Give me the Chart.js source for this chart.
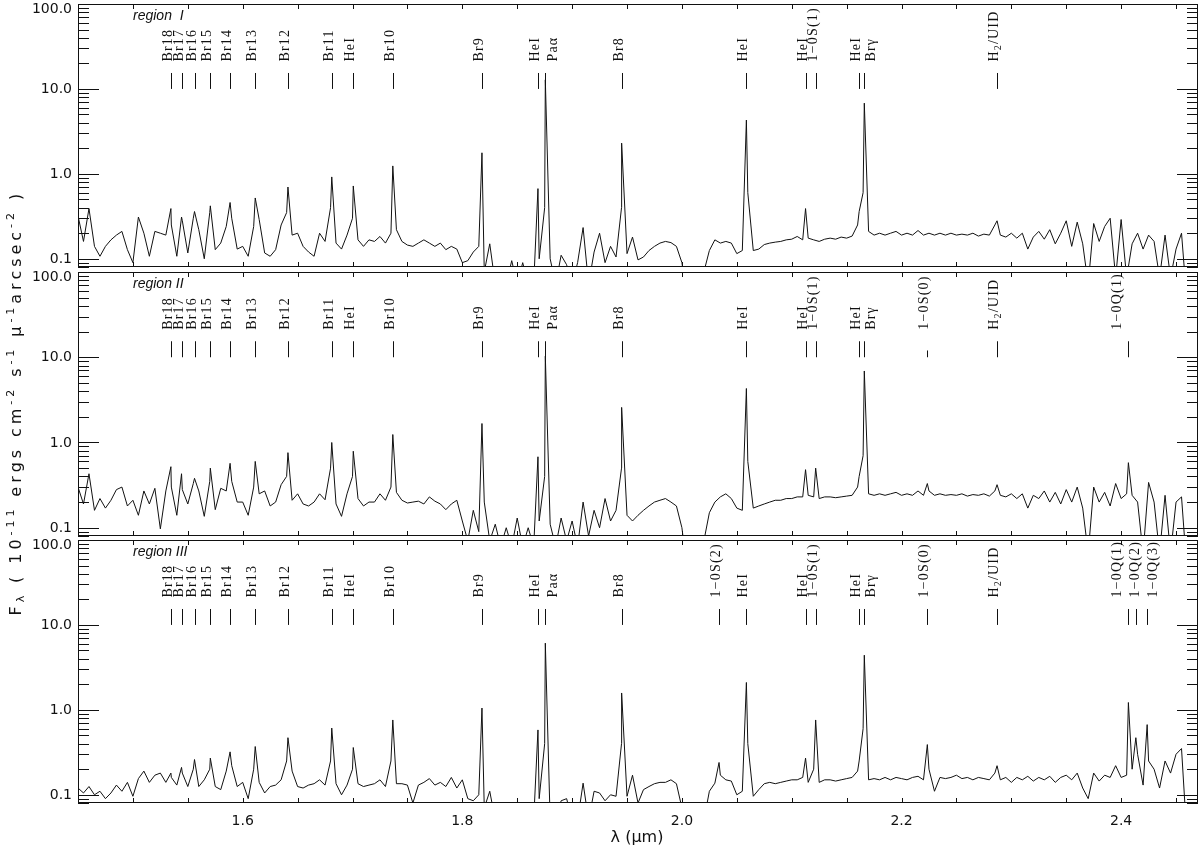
<!DOCTYPE html>
<html>
<head>
<meta charset="utf-8">
<script src="https://cdn.jsdelivr.net/npm/chart.js@4.4.1/dist/chart.umd.min.js"></script>
<style>
  html, body { margin: 0; padding: 0; background: #fff; }
  #wrap { position: relative; width: 1200px; height: 849px; }
  #wrap canvas { position: absolute; left: 0; top: 0; }
</style>
</head>
<body>
<div id="wrap">
  <canvas id="p1" width="1200" height="849"></canvas>
  <canvas id="p2" width="1200" height="849"></canvas>
  <canvas id="p3" width="1200" height="849"></canvas>
</div>
<script>
// spectra sampled every 0.005 micron from 1.450 to 2.460 (203 samples per region)
const waveStart = 1.45;
const waveStep = 0.005;

const flux1 = [
  0.32,0.16,0.39,0.14,0.107,0.14,0.167,0.19,0.21,0.128,
  0.09,0.31,0.2,0.107,0.21,0.2,0.19,0.25,0.107,0.28,
  0.117,0.3,0.22,0.1,0.35,0.128,0.153,0.24,0.3,0.13,
  0.14,0.107,0.24,0.29,0.117,0.107,0.128,0.25,0.35,0.19,
  0.2,0.14,0.12,0.107,0.2,0.16,0.4,0.153,0.13,0.19,
  0.3,0.167,0.14,0.167,0.16,0.183,0.153,0.2,0.22,0.16,
  0.145,0.14,0.153,0.167,0.153,0.14,0.153,0.128,0.14,0.13,
  0.09,0.095,0.12,0.14,0.07,0.15,0.05,0.05,0.05,0.095,
  0.05,0.09,0.05,0.05,0.1,0.4,0.1,0.05,0.11,0.085,
  0.05,0.09,0.233,0.05,0.12,0.2,0.09,0.14,0.105,0.4,
  0.115,0.18,0.097,0.105,0.125,0.14,0.153,0.16,0.155,0.14,
  0.09,0.03,0.03,0.03,0.07,0.125,0.167,0.153,0.16,0.153,
  0.115,0.125,0.6,0.125,0.13,0.147,0.153,0.157,0.16,0.167,
  0.17,0.183,0.167,0.175,0.167,0.16,0.17,0.175,0.17,0.18,
  0.175,0.185,0.25,0.6,0.21,0.19,0.2,0.19,0.2,0.21,
  0.19,0.2,0.19,0.215,0.19,0.2,0.19,0.2,0.19,0.2,
  0.19,0.195,0.19,0.2,0.185,0.195,0.19,0.25,0.19,0.18,
  0.2,0.175,0.2,0.13,0.18,0.21,0.17,0.22,0.15,0.2,
  0.28,0.14,0.27,0.15,0.05,0.26,0.16,0.24,0.3,0.06,
  0.29,0.06,0.15,0.2,0.13,0.19,0.16,0.06,0.19,0.06,
  0.13,0.2,0.03
];

const flux2 = [
  0.30,0.19,0.43,0.16,0.22,0.17,0.21,0.28,0.30,0.18,
  0.21,0.14,0.27,0.19,0.29,0.097,0.27,0.3,0.14,0.28,
  0.19,0.33,0.27,0.136,0.35,0.163,0.29,0.27,0.35,0.2,
  0.2,0.14,0.3,0.25,0.27,0.18,0.2,0.32,0.4,0.21,
  0.25,0.19,0.18,0.2,0.25,0.213,0.5,0.19,0.136,0.25,
  0.4,0.22,0.18,0.2,0.2,0.25,0.21,0.3,0.26,0.21,
  0.195,0.2,0.205,0.19,0.23,0.205,0.19,0.163,0.19,0.21,
  0.12,0.07,0.16,0.09,0.2,0.07,0.11,0.06,0.1,0.06,
  0.13,0.06,0.1,0.06,0.12,0.4,0.11,0.06,0.13,0.07,
  0.12,0.06,0.2,0.08,0.16,0.1,0.22,0.12,0.16,0.5,
  0.14,0.12,0.14,0.16,0.18,0.2,0.21,0.22,0.2,0.18,
  0.1,0.03,0.03,0.03,0.07,0.15,0.2,0.23,0.25,0.22,
  0.17,0.16,0.6,0.17,0.18,0.19,0.2,0.21,0.21,0.22,
  0.22,0.23,0.23,0.24,0.23,0.22,0.23,0.23,0.225,0.23,
  0.235,0.24,0.3,0.7,0.25,0.24,0.25,0.24,0.25,0.26,
  0.24,0.25,0.24,0.27,0.24,0.27,0.24,0.25,0.24,0.245,
  0.24,0.25,0.235,0.245,0.24,0.25,0.235,0.27,0.24,0.23,
  0.25,0.22,0.25,0.17,0.24,0.22,0.27,0.2,0.26,0.19,
  0.28,0.2,0.3,0.17,0.05,0.3,0.2,0.26,0.18,0.33,
  0.22,0.25,0.24,0.2,0.05,0.34,0.2,0.05,0.24,0.05,
  0.2,0.23,0.03
];

const flux3 = [
  0.12,0.105,0.125,0.1,0.11,0.09,0.105,0.13,0.11,0.14,
  0.096,0.155,0.19,0.14,0.17,0.18,0.14,0.16,0.13,0.18,
  0.125,0.2,0.125,0.15,0.2,0.125,0.115,0.19,0.22,0.125,
  0.14,0.09,0.2,0.14,0.105,0.125,0.13,0.15,0.25,0.19,
  0.125,0.12,0.13,0.135,0.15,0.13,0.25,0.135,0.1,0.13,
  0.2,0.135,0.125,0.13,0.135,0.15,0.125,0.25,0.135,0.135,
  0.13,0.08,0.13,0.14,0.155,0.13,0.14,0.125,0.16,0.12,
  0.15,0.09,0.085,0.1,0.07,0.11,0.05,0.05,0.05,0.05,
  0.05,0.05,0.05,0.05,0.09,0.4,0.05,0.05,0.085,0.09,
  0.05,0.05,0.137,0.05,0.11,0.105,0.085,0.1,0.096,0.4,
  0.096,0.17,0.08,0.115,0.125,0.135,0.14,0.14,0.15,0.135,
  0.07,0.03,0.03,0.03,0.05,0.11,0.137,0.17,0.15,0.145,
  0.1,0.11,0.4,0.096,0.115,0.135,0.14,0.135,0.14,0.145,
  0.15,0.15,0.16,0.14,0.2,0.14,0.15,0.15,0.145,0.15,
  0.155,0.16,0.19,0.6,0.15,0.155,0.15,0.16,0.15,0.16,
  0.155,0.15,0.16,0.165,0.15,0.2,0.11,0.16,0.155,0.16,
  0.17,0.155,0.16,0.15,0.16,0.155,0.15,0.18,0.15,0.16,
  0.14,0.16,0.15,0.165,0.145,0.16,0.15,0.165,0.14,0.16,
  0.17,0.15,0.18,0.12,0.09,0.18,0.145,0.17,0.16,0.22,
  0.16,0.17,0.2,0.3,0.13,0.25,0.2,0.12,0.25,0.18,
  0.3,0.35,0.03
];

// identified lines: name, rest wavelength, peak flux in each region
const lineNames = ['Br18','Br17','Br16','Br15','Br14','Br13','Br12','Br11','HeI','Br10',
  'Br9','HeI','Paα','Br8','1−0S(2)','HeI','HeI','1−0S(1)','HeI','Brγ',
  '1−0S(0)','H2/UID','1−0Q(1)','1−0Q(2)','1−0Q(3)'];
const lineWave = [1.5346,1.5443,1.5561,1.5705,1.5885,1.6114,1.6412,1.6811,1.7007,1.7367,
  1.8179,1.8689,1.8756,1.9451,2.0338,2.0587,2.1126,2.1218,2.1614,2.1661,
  2.2235,2.2870,2.4066,2.4134,2.4237];
const peak1 = [0.39,0.31,0.36,0.42,0.46,0.52,0.70,0.92,0.72,1.24,
  1.77,0.67,12.8,2.3,null,4.3,0.39,null,0.36,6.8,
  null,0.28,null,null,null];
const peak2 = [0.52,0.43,0.38,0.50,0.57,0.60,0.76,1.0,0.79,1.24,
  1.67,0.68,10.3,2.58,null,4.3,0.48,0.50,0.40,6.9,
  0.33,0.32,0.58,null,null];
const peak3 = [0.18,0.21,0.26,0.27,0.32,0.37,0.47,0.61,0.36,0.76,
  1.05,0.58,6.1,1.58,0.24,2.1,0.27,0.76,0.25,4.4,
  0.39,0.22,1.22,0.47,0.67];

// which lines are marked in each region
const marks1 = [0,1,2,3,4,5,6,7,8,9,10,11,12,13,15,16,17,18,19,21];
const marks2 = [0,1,2,3,4,5,6,7,8,9,10,11,12,13,15,16,17,18,19,20,21,22];
const marks3 = [0,1,2,3,4,5,6,7,8,9,10,11,12,13,14,15,16,17,18,19,20,21,22,23,24];

const regionNames = ['region  I', 'region II', 'region III'];
const yTickValues = [0.1, 1, 10, 100];
const yTickLabels = ['0.1', '1.0', '10.0', '100.0'];
const xTickValues = [1.6, 1.8, 2.0, 2.2, 2.4];
const xTickLabels = ['1.6', '1.8', '2.0', '2.2', '2.4'];

const xMin = 1.45, xMax = 2.47, yMin = 0.08, yMax = 100;

// label text nudges in px (IDL spread crowded labels apart)
const labelShift = { 12: 11, 19: 10, 22: -8, 23: 2, 24: 9 };
const INK = '#111';
const LABEL_FONT = '14px "Liberation Serif"';

function buildSeries(flux, peaks) {
  const pts = flux.map((f, i) => ({ x: +(waveStart + i * waveStep).toFixed(4), y: f }));
  peaks.forEach((p, k) => { if (p !== null) pts.push({ x: lineWave[k], y: p }); });
  pts.sort((a, b) => a.x - b.x);
  return pts;
}

function drawLineLabel(ctx, text, x, y) {
  ctx.save();
  ctx.translate(x, y);
  ctx.rotate(-Math.PI / 2);
  ctx.textAlign = 'left';
  ctx.textBaseline = 'alphabetic';
  ctx.font = LABEL_FONT;
  ctx.letterSpacing = '1.2px';
  if (text === 'H2/UID') {
    ctx.fillText('H', 0, 0);
    let w = ctx.measureText('H').width;
    ctx.font = '10px "Liberation Serif"';
    ctx.fillText('2', w, 3);
    w += ctx.measureText('2').width;
    ctx.font = LABEL_FONT;
    ctx.fillText('/UID', w, 0);
  } else {
    ctx.fillText(text, 0, 0);
  }
  ctx.restore();
}

function drawYTitle(ctx, cx, cy) {
  const parts = [
    { t: 'F', d: 0 }, { t: 'λ', d: -1 }, { t: ' ( 10', d: 0 }, { t: '-11', d: 1 },
    { t: ' ergs cm', d: 0 }, { t: '-2', d: 1 }, { t: ' s', d: 0 }, { t: '-1', d: 1 },
    { t: ' μ', d: 0 }, { t: '-1', d: 1 }, { t: 'arcsec', d: 0 }, { t: '-2', d: 1 }, { t: ' )', d: 0 }
  ];
  const big = '16px "DejaVu Sans"', small = '11px "DejaVu Sans"';
  ctx.save();
  ctx.translate(cx, cy);
  ctx.rotate(-Math.PI / 2);
  ctx.textBaseline = 'alphabetic';
  ctx.textAlign = 'left';
  let total = 0, n = 0;
  parts.forEach(p => { ctx.font = p.d ? small : big; total += ctx.measureText(p.t).width; n += p.t.length; });
  const gap = Math.max(0, (425 - total) / n);
  let xx = -(total + gap * n) / 2;
  parts.forEach(p => {
    ctx.font = p.d ? small : big;
    const dy = p.d === 1 ? -7 : (p.d === -1 ? 3 : 0);
    for (const ch of p.t) {
      ctx.fillText(ch, xx, dy);
      xx += ctx.measureText(ch).width + gap;
    }
  });
  ctx.restore();
}

function decor(panel) {
  return {
    id: 'decor',
    afterDraw(chart) {
      const { ctx, chartArea: a, scales: { x, y } } = chart;
      ctx.save();
      ctx.strokeStyle = INK;
      ctx.fillStyle = INK;
      ctx.lineWidth = 1;
      ctx.strokeRect(a.left + 0.5, a.top + 0.5, a.right - a.left - 1, a.bottom - a.top - 1);

      // log ticks on both sides, inward
      ctx.beginPath();
      const decades = [0.01, 0.1, 1, 10];
      decades.forEach(d => {
        for (let m = 1; m <= 10; m++) {
          const v = d * m;
          if (v < yMin || v > yMax) continue;
          const major = yTickValues.includes(+v.toPrecision(3));
          const len = major ? 21 : 11;
          const py = Math.round(y.getPixelForValue(v)) + 0.5;
          ctx.moveTo(a.left, py); ctx.lineTo(a.left + len, py);
          ctx.moveTo(a.right, py); ctx.lineTo(a.right - len, py);
        }
      });
      // x ticks every 0.05 micron on bottom and top
      for (let k = 0; k <= 20; k++) {
        const v = 1.45 + k * 0.05;
        const px = Math.round(x.getPixelForValue(v)) + 0.5;
        if (px <= a.left + 1 || px >= a.right - 1) continue;
        ctx.moveTo(px, a.bottom); ctx.lineTo(px, a.bottom - 5);
        ctx.moveTo(px, a.top); ctx.lineTo(px, a.top + 5);
      }
      ctx.stroke();

      // y tick labels
      ctx.font = '14px "DejaVu Sans"';
      ctx.textAlign = 'right';
      ctx.textBaseline = 'middle';
      yTickValues.forEach((v, i) => {
        const py = y.getPixelForValue(v);
        ctx.fillText(yTickLabels[i], a.left - 6, py + (v === yMax ? 5.5 : 0.5));
      });

      // region name
      ctx.font = 'italic 14px "Liberation Sans"';
      ctx.textAlign = 'left';
      ctx.textBaseline = 'alphabetic';
      ctx.fillText(panel.region, 133, a.top + 16);

      // line markers and labels
      const yLo = y.getPixelForValue(10);
      const yHi = y.getPixelForValue(15.4);
      const yShort = y.getPixelForValue(12);
      const yLab = y.getPixelForValue(21);
      ctx.beginPath();
      panel.marks.forEach(k => {
        const px = Math.round(x.getPixelForValue(lineWave[k])) + 0.5;
        const top = (panel.short || []).includes(k) ? yShort : yHi;
        ctx.moveTo(px, yLo); ctx.lineTo(px, top);
      });
      ctx.stroke();
      panel.marks.forEach(k => {
        const px = x.getPixelForValue(lineWave[k]) + 1 + (labelShift[k] || 0);
        drawLineLabel(ctx, lineNames[k], px, yLab);
      });

      if (panel.xLabels) {
        ctx.font = '14px "DejaVu Sans"';
        ctx.textAlign = 'center';
        ctx.textBaseline = 'middle';
        xTickValues.forEach((v, i) => ctx.fillText(xTickLabels[i], x.getPixelForValue(v), a.bottom + 18));
        ctx.font = '16px "DejaVu Sans"';
        ctx.fillText('λ (μm)', (a.left + a.right) / 2 - 1, a.bottom + 35);
      }
      if (panel.yTitle) drawYTitle(ctx, 21, 403);
      ctx.restore();
    }
  };
}

function makePanel(panel) {
  return new Chart(document.getElementById(panel.id), {
    type: 'line',
    data: {
      datasets: [{
        data: buildSeries(panel.flux, panel.peaks),
        borderColor: INK,
        borderWidth: 1,
        pointRadius: 0,
        tension: 0,
        fill: false,
        clip: 0
      }]
    },
    options: {
      responsive: false,
      animation: false,
      events: [],
      layout: { padding: { left: 78, right: 2, top: panel.top, bottom: 849 - panel.bottom } },
      plugins: { legend: { display: false }, tooltip: { enabled: false } },
      scales: {
        x: { type: 'linear', min: xMin, max: xMax, display: false },
        y: { type: 'logarithmic', min: yMin, max: yMax, display: false }
      }
    },
    plugins: [decor(panel)]
  });
}

makePanel({ id: 'p1', top: 4, bottom: 267, flux: flux1, peaks: peak1, marks: marks1, region: regionNames[0] });
makePanel({ id: 'p2', top: 272, bottom: 536, flux: flux2, peaks: peak2, marks: marks2, short: [20], region: regionNames[1], yTitle: true });
makePanel({ id: 'p3', top: 540, bottom: 803, flux: flux3, peaks: peak3, marks: marks3, region: regionNames[2], xLabels: true });
</script>
</body>
</html>
